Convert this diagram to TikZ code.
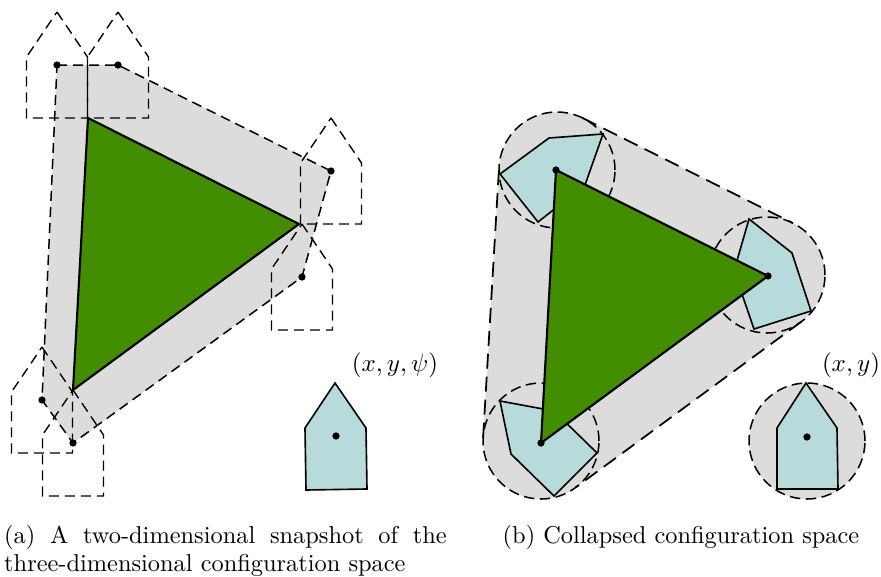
\documentclass[tikz,border=0pt]{standalone}
\usepackage{xcolor}
\definecolor{HullGray}{HTML}{DCDCDC}
\definecolor{ObstacleGreen}{HTML}{438D00}
\definecolor{RobotTeal}{HTML}{B7DBDB}
\usepackage{tikz}
\usetikzlibrary{positioning}

\begin{document}
\begin{tikzpicture}[
  x=0.4pt,y=0.4pt,
  hull/.style={fill=HullGray,draw=black,line width=0.6pt,dash pattern=on 4pt off 2.4pt},
  edge/.style={draw=black,line width=0.7pt,dash pattern=on 6pt off 3.2pt},
  disc/.style={draw=black,line width=0.6pt,dash pattern=on 4.2pt off 2.2pt},
  obstacle/.style={fill=ObstacleGreen,draw=black,line width=0.85pt,line join=miter},
  ghost/.style={draw=black,line width=0.55pt,dash pattern=on 4pt off 2.4pt},
  robot/.style={fill=RobotTeal,draw=black,line width=0.65pt},
  dot/.style={fill=black},
  tuple/.style={font=\fontsize{10.3}{13}\selectfont},
  caption/.style={align=justify,text width=177pt,inner sep=0pt,font=\fontsize{9.75}{11.2}\selectfont}
]
  \useasboundingbox (0,0) rectangle (881,576);

  % left: snapshot
  \path[hull] (57,511) -- (118,511) -- (331,405) -- (302,299) -- (73,133) -- (42,176) -- cycle;
  \path[obstacle] (88,458) -- (299,352) -- (73,186) -- cycle;
  \foreach \px/\py in {57/511,118/511,331/405,302/299,42/176,73/133} {
    \draw[ghost] (\px,\py) ++(0,53) -- ++(30.5,-45) -- ++(0,-61) -- ++(-61,0) -- ++(0,61) -- cycle;
    \fill[dot] (\px,\py) circle (1.45pt);
  }
  \draw[robot] (335,193) -- (366,148) -- (367,87) -- (306,86) -- (305,148) -- cycle;
  \fill[dot] (336,140) circle (1.45pt);
  \node[tuple] (labelfull) at (395,211) {$(x,y,\psi)$};
  \node[caption] (capa) at (225.5,25) {(a) A two-dimensional snapshot of the three-dimensional configuration space};

  % right: collapsed
  \coordinate (topl) at (499.1,409.4);
  \coordinate (topr) at (582.9,457.9);
  \coordinate (rightt) at (792.9,352.9);
  \coordinate (rightb) at (801.3,254.3);
  \coordinate (lowr) at (575.3,88.3);
  \coordinate (lowl) at (483.1,138.4);
  \fill[HullGray] (topl) arc[start angle=176.6,end angle=63.4,radius=23.2pt]
    -- (rightt) arc[start angle=63.4,end angle=-53.7,radius=23.2pt]
    -- (lowr) arc[start angle=-53.7,end angle=-183.4,radius=23.2pt] -- cycle;
  \draw[edge] (topr) -- (rightt);
  \draw[edge] (rightb) -- (lowr);
  \draw[edge] (lowl) -- (topl);
  \foreach \cx/\cy in {557/406,767/301,541/135} {
    \draw[disc] (\cx,\cy) circle (23.2pt);
  }
  \draw[robot] (603,442) -- (549,438) -- (500,402) -- (538,354) -- (585,391) -- cycle;
  \draw[robot] (749,357) -- (792,323) -- (811,265) -- (754,247) -- (734,305) -- cycle;
  \draw[robot] (500,175) -- (511,122) -- (554,80) -- (597,123) -- (554,165) -- cycle;
  \path[obstacle] (556,406) -- (768,300) -- (541,133) -- cycle;
  \foreach \px/\py in {556/406,768/300,541/133} {
    \fill[dot] (\px,\py) circle (1.45pt);
  }
  \draw[hull,dash pattern=on 4.2pt off 2.2pt] (807,135) circle (23.2pt);
  \draw[robot] (806,193) -- (837,148) -- (838,87) -- (777,87) -- (777,148) -- cycle;
  \fill[dot] (807,139) circle (1.45pt);
  \node[tuple] (labelflat) at (851,211) {$(x,y)$};
  \node[inner sep=0pt,font=\fontsize{9.75}{11.2}\selectfont] (capb) at (681,39) {(b) Collapsed configuration space};
\end{tikzpicture}
\end{document}
